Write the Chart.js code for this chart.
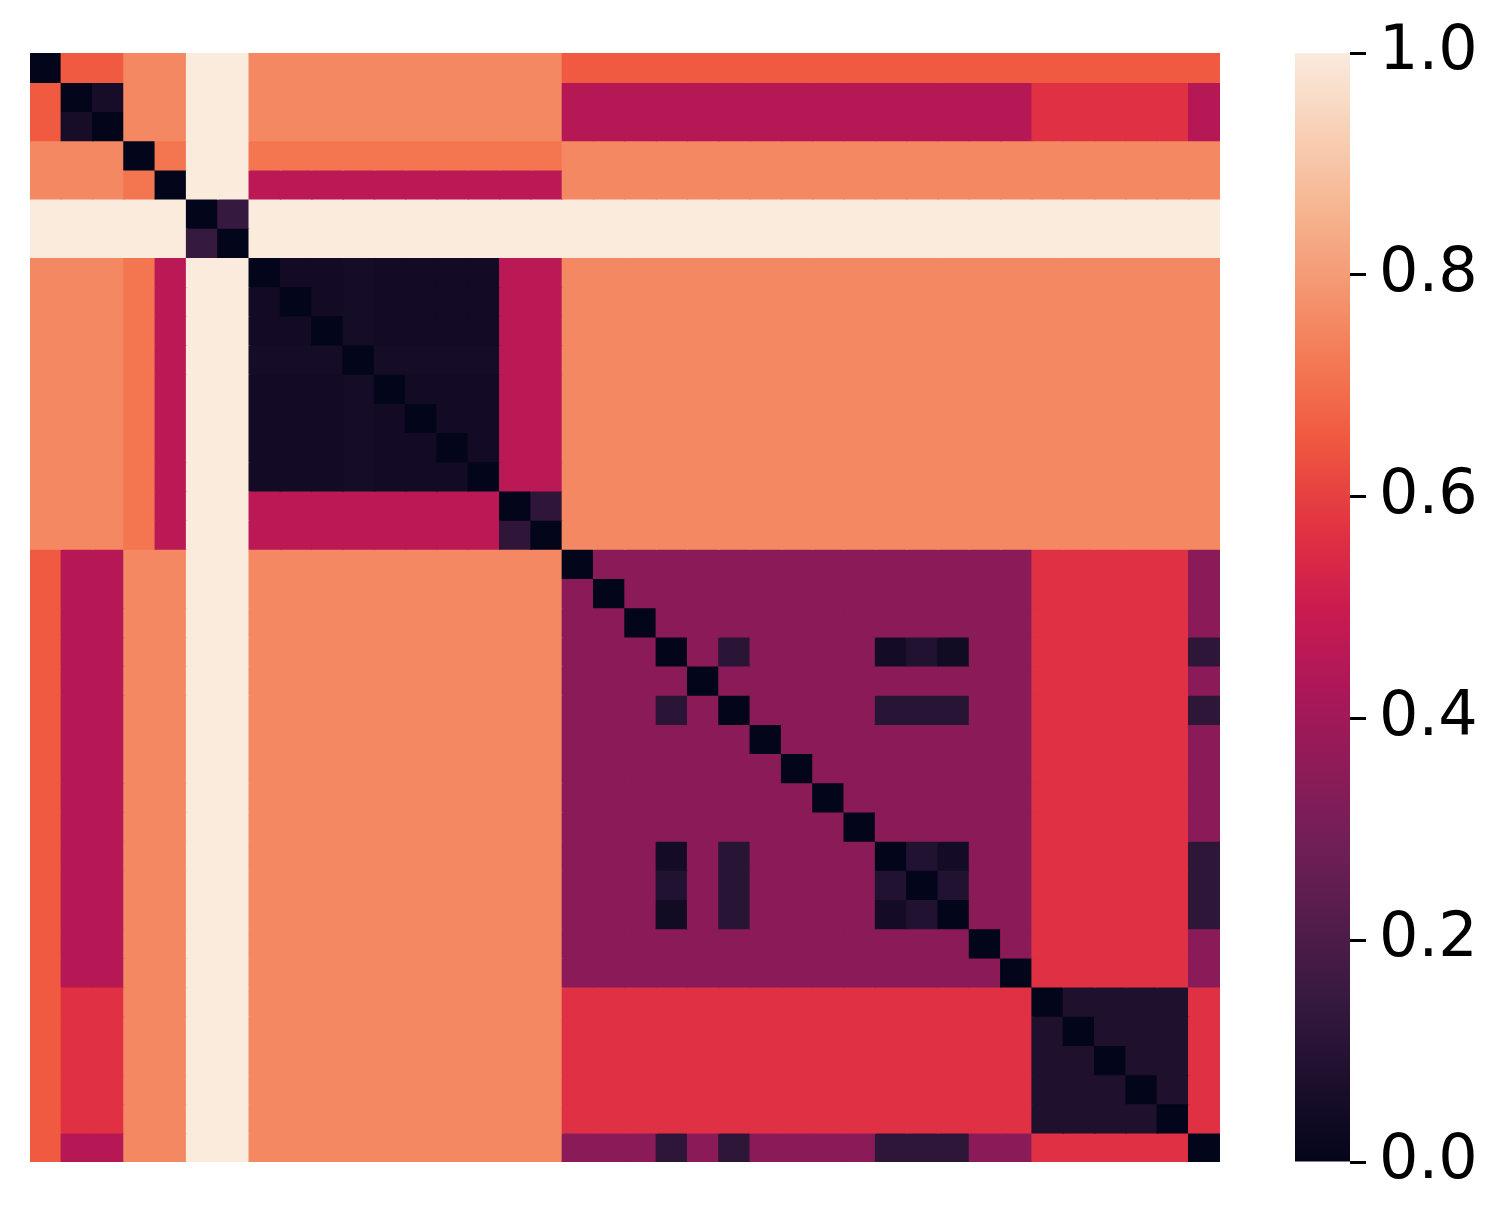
<!DOCTYPE html>
<html><head><meta charset="utf-8">
<script src="https://cdn.jsdelivr.net/npm/chart.js@4.4.1/dist/chart.umd.min.js"></script>
<style>
html,body{margin:0;padding:0;background:#fff;width:1508px;height:1228px;overflow:hidden}
#heat{position:absolute;left:30px;top:53px}
#cbar{position:absolute;left:1295px;top:0}
</style></head><body>
<canvas id="heat" width="1190" height="1109"></canvas>
<canvas id="cbar" width="213" height="1228"></canvas>
<script>
// ---- data ----
const categories = ['0','1','2','3','4','5','6','7','8','9','10','11','12','13','14','15','16','17','18','19',
  '20','21','22','23','24','25','26','27','28','29','30','31','32','33','34','35','36','37'];

// rows: cols 0..16 | 17..31 | 32..36 | 37
const matrix = [
/*0*/ [0,.655,.655,.755,.755,1,1,.755,.755,.755,.755,.755,.755,.755,.755,.755,.755, .655,.655,.655,.655,.655,.655,.655,.655,.655,.655,.655,.655,.655,.655,.655, .655,.655,.655,.655,.655, .655],
/*1*/ [.655,0,.06,.755,.755,1,1,.755,.755,.755,.755,.755,.755,.755,.755,.755,.755, .45,.45,.45,.45,.45,.45,.45,.45,.45,.45,.45,.45,.45,.45,.45, .565,.565,.565,.565,.565, .45],
/*2*/ [.655,.06,0,.755,.755,1,1,.755,.755,.755,.755,.755,.755,.755,.755,.755,.755, .45,.45,.45,.45,.45,.45,.45,.45,.45,.45,.45,.45,.45,.45,.45, .565,.565,.565,.565,.565, .45],
/*3*/ [.755,.755,.755,0,.715,1,1,.715,.715,.715,.715,.715,.715,.715,.715,.715,.715, .755,.755,.755,.755,.755,.755,.755,.755,.755,.755,.755,.755,.755,.755,.755, .755,.755,.755,.755,.755, .755],
/*4*/ [.755,.755,.755,.715,0,1,1,.46,.46,.46,.46,.46,.46,.46,.46,.46,.46, .755,.755,.755,.755,.755,.755,.755,.755,.755,.755,.755,.755,.755,.755,.755, .755,.755,.755,.755,.755, .755],
/*5*/ [1,1,1,1,1,0,.143,1,1,1,1,1,1,1,1,1,1, 1,1,1,1,1,1,1,1,1,1,1,1,1,1,1, 1,1,1,1,1, 1],
/*6*/ [1,1,1,1,1,.143,0,1,1,1,1,1,1,1,1,1,1, 1,1,1,1,1,1,1,1,1,1,1,1,1,1,1, 1,1,1,1,1, 1],
/*7*/ [.755,.755,.755,.715,.46,1,1,0,.045,.045,.052,.045,.045,.045,.045,.46,.46, .755,.755,.755,.755,.755,.755,.755,.755,.755,.755,.755,.755,.755,.755,.755, .755,.755,.755,.755,.755, .755],
/*8*/ [.755,.755,.755,.715,.46,1,1,.045,0,.045,.052,.045,.045,.045,.045,.46,.46, .755,.755,.755,.755,.755,.755,.755,.755,.755,.755,.755,.755,.755,.755,.755, .755,.755,.755,.755,.755, .755],
/*9*/ [.755,.755,.755,.715,.46,1,1,.045,.045,0,.052,.045,.045,.045,.045,.46,.46, .755,.755,.755,.755,.755,.755,.755,.755,.755,.755,.755,.755,.755,.755,.755, .755,.755,.755,.755,.755, .755],
/*10*/[.755,.755,.755,.715,.46,1,1,.052,.052,.052,0,.052,.052,.052,.052,.46,.46, .755,.755,.755,.755,.755,.755,.755,.755,.755,.755,.755,.755,.755,.755,.755, .755,.755,.755,.755,.755, .755],
/*11*/[.755,.755,.755,.715,.46,1,1,.045,.045,.045,.052,0,.045,.045,.045,.46,.46, .755,.755,.755,.755,.755,.755,.755,.755,.755,.755,.755,.755,.755,.755,.755, .755,.755,.755,.755,.755, .755],
/*12*/[.755,.755,.755,.715,.46,1,1,.045,.045,.045,.052,.045,0,.045,.045,.46,.46, .755,.755,.755,.755,.755,.755,.755,.755,.755,.755,.755,.755,.755,.755,.755, .755,.755,.755,.755,.755, .755],
/*13*/[.755,.755,.755,.715,.46,1,1,.045,.045,.045,.052,.045,.045,0,.045,.46,.46, .755,.755,.755,.755,.755,.755,.755,.755,.755,.755,.755,.755,.755,.755,.755, .755,.755,.755,.755,.755, .755],
/*14*/[.755,.755,.755,.715,.46,1,1,.045,.045,.045,.052,.045,.045,.045,0,.46,.46, .755,.755,.755,.755,.755,.755,.755,.755,.755,.755,.755,.755,.755,.755,.755, .755,.755,.755,.755,.755, .755],
/*15*/[.755,.755,.755,.715,.46,1,1,.46,.46,.46,.46,.46,.46,.46,.46,0,.125, .755,.755,.755,.755,.755,.755,.755,.755,.755,.755,.755,.755,.755,.755,.755, .755,.755,.755,.755,.755, .755],
/*16*/[.755,.755,.755,.715,.46,1,1,.46,.46,.46,.46,.46,.46,.46,.46,.125,0, .755,.755,.755,.755,.755,.755,.755,.755,.755,.755,.755,.755,.755,.755,.755, .755,.755,.755,.755,.755, .755],
/*17*/[.655,.45,.45,.755,.755,1,1,.755,.755,.755,.755,.755,.755,.755,.755,.755,.755, 0,.35,.35,.35,.35,.35,.35,.35,.35,.35,.35,.35,.35,.35,.35, .565,.565,.565,.565,.565, .35],
/*18*/[.655,.45,.45,.755,.755,1,1,.755,.755,.755,.755,.755,.755,.755,.755,.755,.755, .35,0,.35,.35,.35,.35,.35,.35,.35,.35,.35,.35,.35,.35,.35, .565,.565,.565,.565,.565, .35],
/*19*/[.655,.45,.45,.755,.755,1,1,.755,.755,.755,.755,.755,.755,.755,.755,.755,.755, .35,.35,0,.35,.35,.35,.35,.35,.35,.35,.35,.35,.35,.35,.35, .565,.565,.565,.565,.565, .35],
/*20*/[.655,.45,.45,.755,.755,1,1,.755,.755,.755,.755,.755,.755,.755,.755,.755,.755, .35,.35,.35,0,.35,.115,.35,.35,.35,.35,.05,.09,.04,.35,.35, .565,.565,.565,.565,.565, .12],
/*21*/[.655,.45,.45,.755,.755,1,1,.755,.755,.755,.755,.755,.755,.755,.755,.755,.755, .35,.35,.35,.35,0,.35,.35,.35,.35,.35,.35,.35,.35,.35,.35, .565,.565,.565,.565,.565, .35],
/*22*/[.655,.45,.45,.755,.755,1,1,.755,.755,.755,.755,.755,.755,.755,.755,.755,.755, .35,.35,.35,.115,.35,0,.35,.35,.35,.35,.105,.105,.105,.35,.35, .565,.565,.565,.565,.565, .12],
/*23*/[.655,.45,.45,.755,.755,1,1,.755,.755,.755,.755,.755,.755,.755,.755,.755,.755, .35,.35,.35,.35,.35,.35,0,.35,.35,.35,.35,.35,.35,.35,.35, .565,.565,.565,.565,.565, .35],
/*24*/[.655,.45,.45,.755,.755,1,1,.755,.755,.755,.755,.755,.755,.755,.755,.755,.755, .35,.35,.35,.35,.35,.35,.35,0,.35,.35,.35,.35,.35,.35,.35, .565,.565,.565,.565,.565, .35],
/*25*/[.655,.45,.45,.755,.755,1,1,.755,.755,.755,.755,.755,.755,.755,.755,.755,.755, .35,.35,.35,.35,.35,.35,.35,.35,0,.35,.35,.35,.35,.35,.35, .565,.565,.565,.565,.565, .35],
/*26*/[.655,.45,.45,.755,.755,1,1,.755,.755,.755,.755,.755,.755,.755,.755,.755,.755, .35,.35,.35,.35,.35,.35,.35,.35,.35,0,.35,.35,.35,.35,.35, .565,.565,.565,.565,.565, .35],
/*27*/[.655,.45,.45,.755,.755,1,1,.755,.755,.755,.755,.755,.755,.755,.755,.755,.755, .35,.35,.35,.05,.35,.105,.35,.35,.35,.35,0,.09,.05,.35,.35, .565,.565,.565,.565,.565, .12],
/*28*/[.655,.45,.45,.755,.755,1,1,.755,.755,.755,.755,.755,.755,.755,.755,.755,.755, .35,.35,.35,.09,.35,.105,.35,.35,.35,.35,.09,0,.09,.35,.35, .565,.565,.565,.565,.565, .12],
/*29*/[.655,.45,.45,.755,.755,1,1,.755,.755,.755,.755,.755,.755,.755,.755,.755,.755, .35,.35,.35,.04,.35,.105,.35,.35,.35,.35,.05,.09,0,.35,.35, .565,.565,.565,.565,.565, .12],
/*30*/[.655,.45,.45,.755,.755,1,1,.755,.755,.755,.755,.755,.755,.755,.755,.755,.755, .35,.35,.35,.35,.35,.35,.35,.35,.35,.35,.35,.35,.35,0,.35, .565,.565,.565,.565,.565, .35],
/*31*/[.655,.45,.45,.755,.755,1,1,.755,.755,.755,.755,.755,.755,.755,.755,.755,.755, .35,.35,.35,.35,.35,.35,.35,.35,.35,.35,.35,.35,.35,.35,0, .565,.565,.565,.565,.565, .35],
/*32*/[.655,.565,.565,.755,.755,1,1,.755,.755,.755,.755,.755,.755,.755,.755,.755,.755, .565,.565,.565,.565,.565,.565,.565,.565,.565,.565,.565,.565,.565,.565,.565, 0,.08,.08,.08,.08, .565],
/*33*/[.655,.565,.565,.755,.755,1,1,.755,.755,.755,.755,.755,.755,.755,.755,.755,.755, .565,.565,.565,.565,.565,.565,.565,.565,.565,.565,.565,.565,.565,.565,.565, .08,0,.08,.08,.08, .565],
/*34*/[.655,.565,.565,.755,.755,1,1,.755,.755,.755,.755,.755,.755,.755,.755,.755,.755, .565,.565,.565,.565,.565,.565,.565,.565,.565,.565,.565,.565,.565,.565,.565, .08,.08,0,.08,.08, .565],
/*35*/[.655,.565,.565,.755,.755,1,1,.755,.755,.755,.755,.755,.755,.755,.755,.755,.755, .565,.565,.565,.565,.565,.565,.565,.565,.565,.565,.565,.565,.565,.565,.565, .08,.08,.08,0,.08, .565],
/*36*/[.655,.565,.565,.755,.755,1,1,.755,.755,.755,.755,.755,.755,.755,.755,.755,.755, .565,.565,.565,.565,.565,.565,.565,.565,.565,.565,.565,.565,.565,.565,.565, .08,.08,.08,.08,0, .565],
/*37*/[.655,.45,.45,.755,.755,1,1,.755,.755,.755,.755,.755,.755,.755,.755,.755,.755, .35,.35,.35,.12,.35,.12,.35,.35,.35,.35,.12,.12,.12,.35,.35, .565,.565,.565,.565,.565, 0]
];

const colorbarTicks = [0, 0.2, 0.4, 0.6, 0.8, 1.0];

// ---- rocket colormap (approximate anchors) ----
const rocketStops = [
  [0.0,    [3,5,26]],
  [0.1429, [53,25,62]],
  [0.2857, [112,31,87]],
  [0.4286, [173,23,89]],
  [0.5,    [203,27,79]],
  [0.5714, [225,51,66]],
  [0.655,  [240,90,65]],
  [0.7143, [243,118,81]],
  [0.8571, [246,180,143]],
  [1.0,    [250,235,221]]
];
function rocket(v) {
  v = Math.max(0, Math.min(1, v));
  for (let i = 1; i < rocketStops.length; i++) {
    const [t1, c1] = rocketStops[i];
    const [t0, c0] = rocketStops[i-1];
    if (v <= t1) {
      const f = (v - t0) / (t1 - t0);
      const c = c0.map((a, k) => Math.round(a + (c1[k] - a) * f));
      return `rgb(${c[0]},${c[1]},${c[2]})`;
    }
  }
  const c = rocketStops[rocketStops.length-1][1];
  return `rgb(${c[0]},${c[1]},${c[2]})`;
}

// ---- heatmap ----
const heatDatasets = matrix.map((row, r) => ({
  data: row.map(() => [r, r + 1]),
  backgroundColor: row.map(v => rocket(v)),
  borderWidth: 0,
  inflateAmount: 0.7,
  barPercentage: 1,
  categoryPercentage: 1,
  grouped: false
}));

new Chart(document.getElementById('heat'), {
  type: 'bar',
  data: { labels: categories, datasets: heatDatasets },
  options: {
    responsive: false,
    animation: false,
    devicePixelRatio: 1,
    layout: { padding: 0 },
    plugins: { legend: { display: false }, tooltip: { enabled: false } },
    scales: {
      x: { type: 'category', display: false, offset: true },
      y: { type: 'linear', min: 0, max: categories.length, reverse: true, display: false }
    }
  }
});

// ---- colorbar ----
function cbGradient(chart) {
  const area = chart.chartArea;
  if (!area) return rocket(0.5);
  const g = chart.ctx.createLinearGradient(0, area.bottom, 0, area.top);
  rocketStops.forEach(([t, c]) => g.addColorStop(t, `rgb(${c[0]},${c[1]},${c[2]})`));
  return g;
}

new Chart(document.getElementById('cbar'), {
  type: 'bar',
  data: { labels: [''], datasets: [{
    data: [[0, 1]],
    backgroundColor: ctx => cbGradient(ctx.chart),
    borderWidth: 0, inflateAmount: 0, barPercentage: 1, categoryPercentage: 1
  }]},
  options: {
    responsive: false,
    animation: false,
    devicePixelRatio: 1,
    layout: { padding: { top: 53, bottom: 66, left: 0, right: 0 } },
    plugins: { legend: { display: false }, tooltip: { enabled: false } },
    scales: {
      x: { display: false },
      y: {
        position: 'right', min: 0, max: 1,
        afterBuildTicks: ax => { ax.ticks = colorbarTicks.map(v => ({ value: v })); },
        afterFit: ax => { ax.width = 158; },
        ticks: {
          callback: v => Number(v).toFixed(1),
          font: { family: 'DejaVu Sans', size: 62 },
          color: '#000', padding: 13
        },
        grid: { drawOnChartArea: false, drawTicks: true, tickLength: 16, tickWidth: 3, tickColor: '#000' },
        border: { display: false }
      }
    }
  }
});
</script>
</body></html>
